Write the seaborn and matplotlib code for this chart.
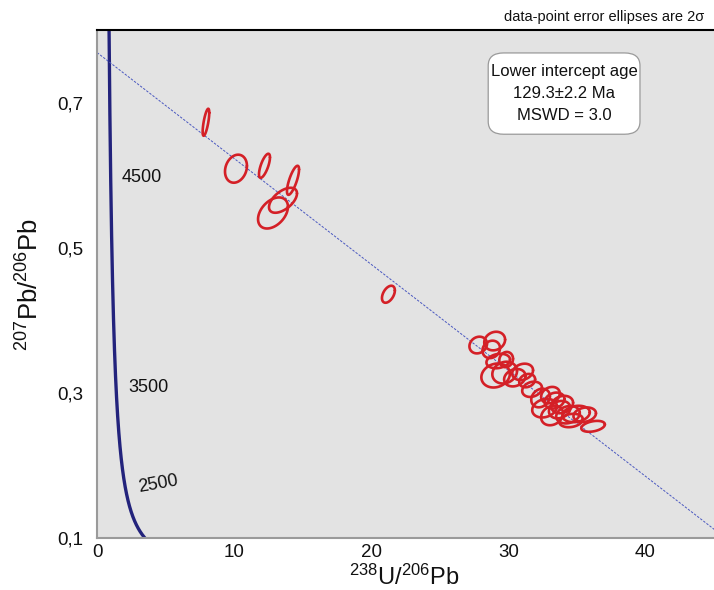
import numpy as np
import pandas as pd
import matplotlib
matplotlib.use("Agg")
import matplotlib.pyplot as plt
from matplotlib.patches import FancyBboxPatch
import seaborn as sns

# ---------------- data ----------------
# error ellipses: centre x (238U/206Pb), centre y (207Pb/206Pb),
# half-extent in x, half-extent in y, error correlation
ell_x = [7.94, 10.13, 12.21, 14.29, 13.56, 12.83, 21.25,
         27.80, 29.00, 28.75, 29.26, 29.07, 29.73, 29.84, 31.04, 31.37, 31.73,
         32.35, 33.07, 32.64, 33.19, 33.92, 34.35, 34.94, 36.18, 34.57, 33.37,
         33.74, 35.57, 30.47]
ell_y = [0.673, 0.609, 0.613, 0.593, 0.5655, 0.548, 0.436,
         0.366, 0.3715, 0.360, 0.344, 0.324, 0.328, 0.346, 0.329, 0.317, 0.305,
         0.293, 0.297, 0.279, 0.269, 0.284, 0.270, 0.271, 0.254, 0.262, 0.2895,
         0.277, 0.270, 0.321]
ell_hw = [0.24, 0.80, 0.40, 0.44, 1.02, 1.09, 0.47,
          0.64, 0.76, 0.64, 0.86, 1.04, 0.90, 0.50, 0.76, 0.58, 0.72,
          0.68, 0.68, 0.90, 0.80, 0.80, 0.86, 1.00, 0.86, 0.86, 0.72,
          0.78, 0.82, 0.78]
ell_hh = [0.0186, 0.0193, 0.0166, 0.0200, 0.0172, 0.0214, 0.0117,
          0.0115, 0.0128, 0.0120, 0.0100, 0.0165, 0.0150, 0.0105, 0.0113, 0.0092, 0.0105,
          0.0128, 0.0113, 0.0128, 0.0135, 0.0120, 0.0120, 0.0113, 0.0075, 0.0092, 0.0110,
          0.0120, 0.0100, 0.0120]
ell_rho = [0.7, 0.2, 0.7, 0.75, 0.55, 0.4, 0.45,
           0.15, 0.15, 0.15, 0.2, 0.15, 0.15, 0.1, 0.2, 0.2, 0.2,
           0.2, 0.2, 0.2, 0.2, 0.2, 0.2, 0.2, 0.35, 0.2, 0.2,
           0.2, 0.2, 0.2]

# concordia (Tera-Wasserburg) from standard decay constants
lambda238 = 1.55125e-10
lambda235 = 9.8485e-10
u_ratio = 137.88
concordia_ages_ma = np.linspace(1200, 5200, 400)
age_labels = ["4500", "3500", "2500"]
age_label_x = [1.82, 2.26, 3.0]
age_label_y = [0.597, 0.308, 0.170]
age_label_rot = [0, 0, 10]

# discordia: upper y-intercept, lower intercept age
discordia_y0 = 0.769
lower_intercept_ma = 129.3

x_ticks = [0, 10, 20, 30, 40]
x_minor = [5, 15, 25, 35]
y_ticks = [0.1, 0.3, 0.5, 0.7]
y_minor = [0.2, 0.4, 0.6]
y_tick_labels = ["0,1", "0,3", "0,5", "0,7"]

# ---------------- style ----------------
sns.set_style("white")
plt.rcParams["font.family"] = ["Liberation Sans", "DejaVu Sans"]
plt.rcParams["mathtext.default"] = "regular"

fig = plt.figure(figsize=(7.14, 5.90), dpi=100)
ax = fig.add_axes([0.136, 0.088, 0.864, 0.861])
ax.set_facecolor("#e3e3e3")

# concordia curve
t = concordia_ages_ma * 1e6
cx = 1.0 / (np.exp(lambda238 * t) - 1.0)
cy = (np.exp(lambda235 * t) - 1.0) / (np.exp(lambda238 * t) - 1.0) / u_ratio
sns.lineplot(x=cx, y=cy, sort=False, color="#23237c", linewidth=2.4, ax=ax)

# discordia
tl = lower_intercept_ma * 1e6
lx = 1.0 / (np.exp(lambda238 * tl) - 1.0)
ly = (np.exp(lambda235 * tl) - 1.0) / (np.exp(lambda238 * tl) - 1.0) / u_ratio
sns.lineplot(x=[0.0, lx], y=[discordia_y0, ly], sort=False, color="#4a58c0",
             linewidth=0.7, linestyle=(0, (2.5, 1.5)), ax=ax)

# error ellipses
theta = np.linspace(0, 2 * np.pi, 120)
rows = []
for i, (x0, y0, hw, hh, r) in enumerate(zip(ell_x, ell_y, ell_hw, ell_hh, ell_rho)):
    ex = x0 + hw * np.cos(theta)
    ey = y0 + hh * (r * np.cos(theta) + np.sqrt(1 - r * r) * np.sin(theta))
    rows.append(pd.DataFrame({"x": ex, "y": ey, "id": i}))
df = pd.concat(rows, ignore_index=True)
sns.lineplot(data=df, x="x", y="y", units="id", estimator=None, sort=False,
             color="#d42027", linewidth=1.9, ax=ax)

# age labels on concordia
for lab, lx_, ly_, rot in zip(age_labels, age_label_x, age_label_y, age_label_rot):
    ax.text(lx_, ly_, lab, fontsize=13, ha="left", va="center", rotation=rot,
            rotation_mode="anchor", color="#111111")

# result box
box = FancyBboxPatch((0.634, 0.795), 0.246, 0.160,
                     boxstyle="round,pad=0,rounding_size=0.025",
                     transform=ax.transAxes, fc="white", ec="#9a9a9a", lw=0.9,
                     zorder=4)
ax.add_patch(box)
ax.text(0.757, 0.875, "Lower intercept age\n129.3\u00b12.2 Ma\nMSWD = 3.0",
        transform=ax.transAxes, ha="center", va="center", fontsize=12,
        linespacing=1.55, color="#111111", zorder=5)

fig.text(0.987, 0.972, "data-point error ellipses are 2\u03c3", ha="right",
         va="center", fontsize=10.5, color="#111111")

ax.set_xlim(0, 45)
ax.set_ylim(0.1, 0.8)
ax.set_xticks(x_ticks)
ax.set_xticklabels([str(v) for v in x_ticks])
ax.set_xticks(x_minor, minor=True)
ax.set_yticks(y_ticks)
ax.set_yticklabels(y_tick_labels)
ax.set_yticks(y_minor, minor=True)
ax.tick_params(axis="both", which="both", direction="in", length=5, width=1,
               color="#8a8a8a", labelsize=13.5, labelcolor="#111111")
ax.tick_params(axis="x", which="both", pad=4)
ax.tick_params(axis="y", which="both", pad=10)

for s in ["left", "bottom"]:
    ax.spines[s].set_color("#9a9a9a")
    ax.spines[s].set_linewidth(1.5)
ax.spines["top"].set_color("black")
ax.spines["top"].set_linewidth(1.5)
ax.spines["right"].set_visible(False)

ax.set_xlabel("")
fig.text(0.566, 0.0, r"$^{238}$U/$^{206}$Pb", fontsize=17, ha="center",
         va="bottom", color="#111111")
ax.set_ylabel(r"$^{207}$Pb/$^{206}$Pb", fontsize=18.5, labelpad=10, color="#111111")

fig.savefig("out.png", dpi=100, facecolor="white")
